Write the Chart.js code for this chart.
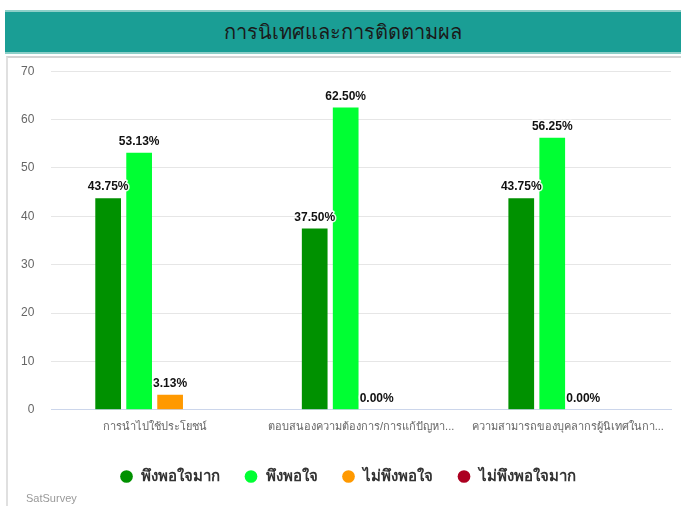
<!DOCTYPE html>
<html>
<head>
<meta charset="utf-8">
<script src="https://cdn.jsdelivr.net/npm/chart.js@4.4.1/dist/chart.umd.min.js"></script>
<style>
  body { margin: 0; background: #fff; width: 681px; height: 506px; overflow: hidden; font-family: Tahoma, "DejaVu Sans", sans-serif; }
  .head {
    position: absolute; left: 5px; top: 10px; width: 676px; height: 40px;
    background: #1a9e95; border-top: 2px solid #8ccfc8; border-bottom: 2px solid #8ccfc8;
    color: #1a1a1a; font-size: 20px; text-align: center; line-height: 40px;
  }
  .panel {
    position: absolute; left: 6px; top: 56px; width: 675px; height: 450px;
    border-top: 2px solid #d4d4d4; border-left: 2px solid #e0e0e0; box-sizing: border-box;
  }
  .box { position: absolute; left: 1px; top: 47px; width: 677px; height: 459px; }
  .brand { position: absolute; left: 26px; top: 492px; font-size: 11px; color: #999; font-family: Arial, sans-serif; }
</style>
</head>
<body>
<div class="head">การนิเทศและการติดตามผล</div>
<div class="panel"></div>
<div class="box"><canvas id="chart"></canvas></div>
<div class="brand">SatSurvey</div>
<script>
// หมวดหมู่และค่าของแต่ละชุด (ร้อยละ)
const categories = ['การนำไปใช้ประโยชน์', 'ตอบสนองความต้องการ/การแก้ปัญหา...', 'ความสามารถของบุคลากรผู้นิเทศในกา...'];
const seriesNames = ['พึงพอใจมาก', 'พึงพอใจ', 'ไม่พึงพอใจ', 'ไม่พึงพอใจมาก'];
const veryGood = [43.75, 37.50, 43.75];
const good = [53.13, 62.50, 56.25];
const bad = [3.13, 0, 0];
const veryBad = [0, 0, 0];
const colors = ['#009100', '#00ff33', '#ff9900', '#ac0020'];

const values = [veryGood, good, bad, veryBad];

// วาดตัวเลขเหนือแท่ง (ไม่แสดงของชุดสุดท้าย)
const valueLabels = {
    id: 'valueLabels',
    afterDatasetsDraw(chart) {
        const ctx = chart.ctx;
        ctx.save();
        ctx.font = 'bold 12px Arial, sans-serif';
        ctx.textAlign = 'center';
        ctx.textBaseline = 'bottom';
        ctx.lineJoin = 'round';
        chart.data.datasets.forEach((ds, i) => {
            if (i === 3) return;
            chart.getDatasetMeta(i).data.forEach((bar, j) => {
                const txt = ds.data[j].toFixed(2) + '%';
                ctx.strokeStyle = 'rgba(255,255,255,0.9)';
                ctx.lineWidth = 3;
                ctx.strokeText(txt, bar.x, bar.y - 5);
                ctx.fillStyle = '#111';
                ctx.fillText(txt, bar.x, bar.y - 5);
            });
        });
        ctx.restore();
    }
};

// เลื่อน legend ไปทางขวาเล็กน้อยให้ตรงกับต้นฉบับ
const legendShift = {
    id: 'legendShift',
    afterLayout(chart) {
        if (chart.legend) {
            chart.legend.left += 10;
            chart.legend.right += 10;
        }
    }
};

new Chart(document.getElementById('chart'), {
    type: 'bar',
    data: {
        labels: categories,
        datasets: seriesNames.map((name, i) => ({
            label: name,
            data: values[i],
            backgroundColor: colors[i],
            borderWidth: 0,
            categoryPercentage: 0.6,
            barPercentage: 0.83
        }))
    },
    options: {
        responsive: true,
        maintainAspectRatio: false,
        animation: false,
        layout: { padding: { left: 3, right: 7, top: 0, bottom: 12 } },
        scales: {
            x: {
                grid: { display: false },
                border: { color: '#ccd6eb' },
                ticks: { color: '#666', font: { size: 11 }, maxRotation: 0, autoSkip: false },
                afterFit: scale => { scale.height += 8; }
            },
            y: {
                min: 0,
                max: 70,
                ticks: { stepSize: 10, color: '#666', font: { size: 12, family: 'Arial' }, padding: 17 },
                grid: { color: '#e6e6e6', drawTicks: false },
                border: { display: false }
            }
        },
        plugins: {
            legend: {
                position: 'bottom',
                labels: {
                    usePointStyle: true,
                    pointStyle: 'circle',
                    boxWidth: 14,
                    boxHeight: 9,
                    padding: 24,
                    color: '#333',
                    font: { size: 15, weight: 'bold' }
                }
            },
            tooltip: { enabled: false }
        }
    },
    plugins: [valueLabels, legendShift]
});
</script>
</body>
</html>
